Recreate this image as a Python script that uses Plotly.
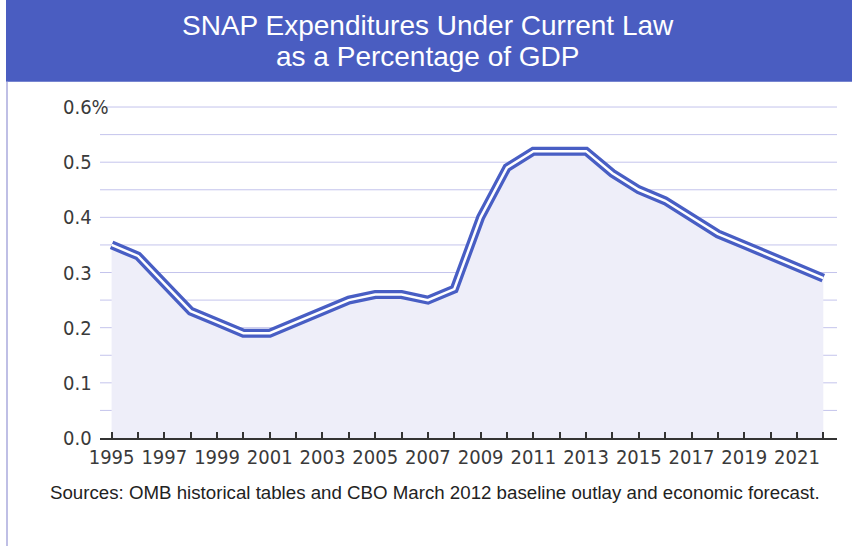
import plotly.graph_objects as go

# SNAP outlays as a share of GDP, fiscal years 1995-2022
years = list(range(1995, 2023))
share_of_gdp = [0.35, 0.33, 0.28, 0.23, 0.21, 0.19, 0.19, 0.21, 0.23, 0.25,
                0.26, 0.26, 0.25, 0.27, 0.40, 0.49, 0.52, 0.52, 0.52, 0.48,
                0.45, 0.43, 0.40, 0.37, 0.35, 0.33, 0.31, 0.29]

y_ticks = [0.0, 0.1, 0.2, 0.3, 0.4, 0.5, 0.6]
y_tick_labels = ["0.0", "0.1", "0.2", "0.3", "0.4", "0.5", "0.6%"]
grid_levels = [round(0.05 * k, 2) for k in range(1, 13)]

title_lines = ["SNAP Expenditures Under Current Law", "as a Percentage of GDP"]
source_note = "Sources: OMB historical tables and CBO March 2012 baseline outlay and economic forecast."

W, H = 852, 546
L, R = 100, 837          # plot area horizontal extent (px)
T, B = 96.3, 438.3       # plot area vertical extent (px)
PH = B - T
PW = R - L

def px_x(p):
    return (p - L) / PW

def px_y(p):
    return (B - p) / PH

BLUE = "rgb(72, 94, 196)"
GRID = "rgb(196, 196, 236)"
TEXT = "#3a3a3a"
NARROW = "DejaVu Sans Condensed, Roboto, sans-serif"

fig = go.Figure()

# shaded area under the curve
fig.add_trace(go.Scatter(x=years, y=share_of_gdp, mode="lines",
                         line=dict(width=0, color="rgba(0,0,0,0)"),
                         fill="tozeroy", fillcolor="rgb(238, 238, 249)",
                         hoverinfo="skip", showlegend=False))
# double-stroke line: thick blue outline with a thin white core
fig.add_trace(go.Scatter(x=years, y=share_of_gdp, mode="lines",
                         line=dict(width=9, color=BLUE),
                         showlegend=False))
fig.add_trace(go.Scatter(x=years, y=share_of_gdp, mode="lines",
                         line=dict(width=2.5, color="white"),
                         hoverinfo="skip", showlegend=False))

shapes = []
# horizontal guide lines every 0.05
for g in grid_levels:
    shapes.append(dict(type="line", xref="paper", yref="y",
                       x0=0 if g < 0.58 else px_x(107), x1=1, y0=g, y1=g,
                       line=dict(color=GRID, width=1), layer="below"))
# title banner
shapes.append(dict(type="rect", xref="paper", yref="paper",
                   x0=px_x(6), x1=px_x(W + 2), y0=px_y(82), y1=px_y(-2),
                   fillcolor="rgb(74, 93, 193)", line=dict(width=0)))
# thin frame on the left edge
shapes.append(dict(type="line", xref="paper", yref="paper",
                   x0=px_x(7), x1=px_x(7), y0=px_y(82), y1=px_y(W),
                   line=dict(color="rgb(170, 170, 220)", width=1.5)))

annotations = []
for v, t in zip(y_ticks, y_tick_labels):
    annotations.append(dict(xref="paper", yref="y", x=px_x(61), y=v,
                            text=t, showarrow=False, xanchor="left",
                            yanchor="middle",
                            font=dict(family=NARROW, size=20, color=TEXT)))
for i, (line, ypx) in enumerate(zip(title_lines, [26, 57])):
    annotations.append(dict(xref="paper", yref="paper", x=px_x(427.5),
                            y=px_y(ypx), text=line, showarrow=False,
                            xanchor="center", yanchor="middle",
                            font=dict(family="Liberation Sans", size=28,
                                      color="white")))
annotations.append(dict(xref="paper", yref="paper", x=px_x(435), y=px_y(493),
                        text=source_note, showarrow=False, xanchor="center",
                        yanchor="middle",
                        font=dict(family="Liberation Sans", size=18.7,
                                  color="#222222")))

fig.update_layout(
    width=W, height=H,
    margin=dict(l=L, r=W - R, t=T, b=H - B),
    paper_bgcolor="white", plot_bgcolor="white",
    shapes=shapes, annotations=annotations,
    xaxis=dict(range=[1994.56, 2022.52], tickmode="array",
               tickvals=list(range(1995, 2023)),
               ticktext=[str(y) if y % 2 == 1 else "" for y in range(1995, 2023)],
               ticks="inside", ticklen=6, tickwidth=1.5, tickcolor="#333333",
               showline=True, linecolor="#333333", linewidth=1.5,
               showgrid=False, zeroline=False,
               tickfont=dict(family=NARROW, size=20, color=TEXT)),
    yaxis=dict(range=[0, 0.62], showticklabels=False, showgrid=False,
               zeroline=False, ticks=""),
)

fig.write_html("out.html")
